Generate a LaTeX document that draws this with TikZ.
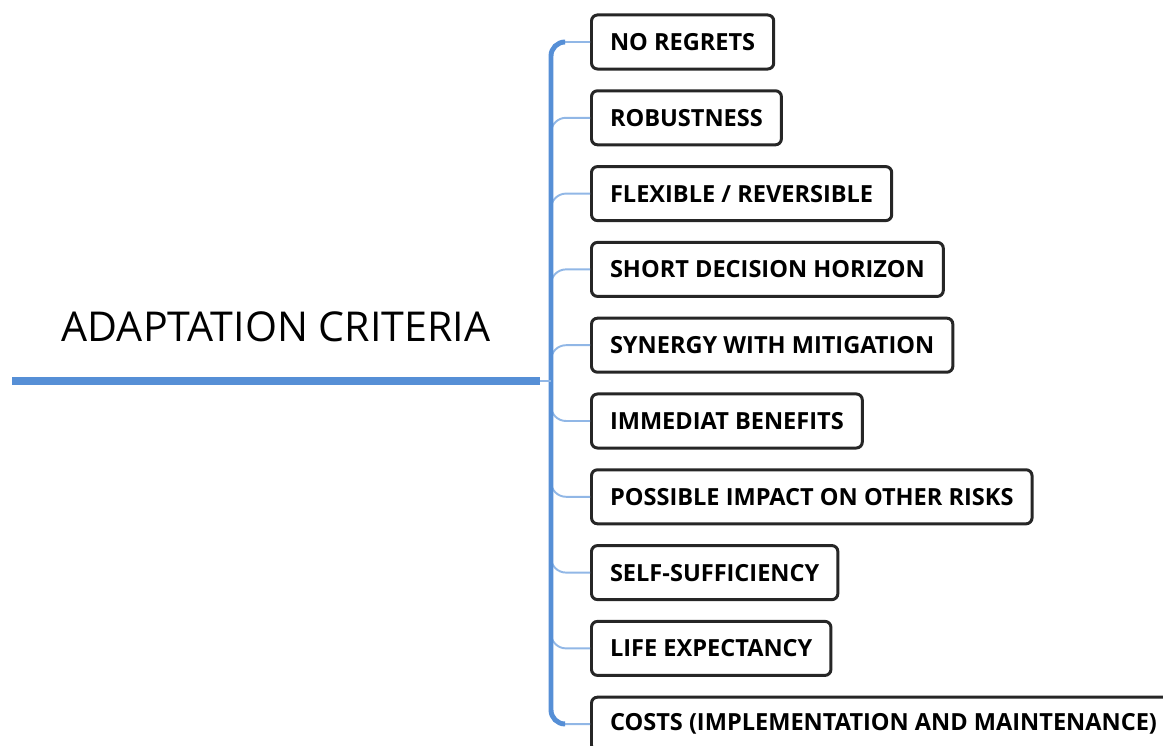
\documentclass[tikz,border=0pt]{standalone}
\usepackage{fontspec}
\setmainfont{Open Sans}
\usetikzlibrary{positioning}
\definecolor{mapblue}{RGB}{86,143,214}
\definecolor{twigblue}{RGB}{145,183,230}
\definecolor{boxgray}{RGB}{38,38,38}
\tikzset{font=\small}
\tikzset{crit/.style={draw=boxgray,line width=0.85pt,rounded corners=1.7pt,fill=white,
  anchor=west,minimum height=0.54cm,inner xsep=0.185cm,
  font=\fontsize{6.7}{7.5}\selectfont\bfseries}}
\tikzset{twig/.style={twigblue,line width=0.55pt,rounded corners=0.15cm}}

\begin{document}
\begin{tikzpicture}[x=0.01cm,y=-0.01cm]
\useasboundingbox (0,0) rectangle (1163,746);
\node[font=\fontsize{11.7}{13}\selectfont] (title) at (276,327) {ADAPTATION CRITERIA};
\coordinate (root) at (551,381);
% criteria boxes
\foreach \i/\txt in {1/NO REGRETS, 2/ROBUSTNESS, 3/{FLEXIBLE / REVERSIBLE},
  4/SHORT DECISION HORIZON, 5/SYNERGY WITH MITIGATION, 6/IMMEDIAT BENEFITS,
  7/POSSIBLE IMPACT ON OTHER RISKS, 8/SELF-SUFFICIENCY, 9/LIFE EXPECTANCY,
  10/{COSTS (IMPLEMENTATION AND MAINTENANCE)}}
  \node[crit] (c\i) at (590,{42+75.8*(\i-1)}) {\txt};
% branches
\foreach \i in {1,...,10}
  \draw[twig] (root) |- (c\i.west);
\draw[mapblue,line width=1.4pt,rounded corners=0.14cm] (564,42) -| (root) |- (564,724);
\draw[mapblue,line width=2pt] (12,381) -- (540,381);
\draw[twigblue,line width=0.4pt] (540,381) -- (root);
\end{tikzpicture}
\end{document}
